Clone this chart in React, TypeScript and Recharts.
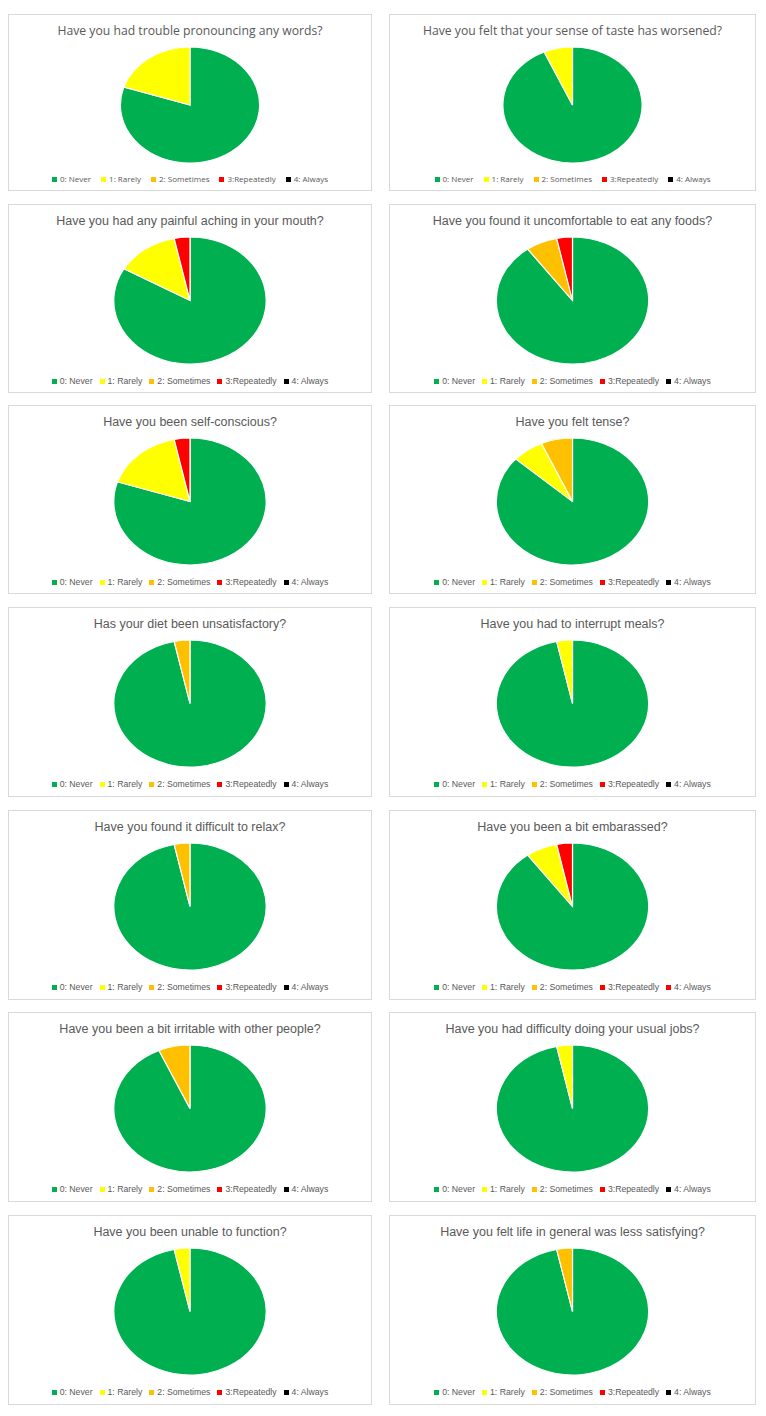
import React from 'react';
import { PieChart, Pie, Cell, Legend } from 'recharts';

const LEVELS = ['0: Never', '1: Rarely', '2: Sometimes', '3:Repeatedly', '4: Always'];

const QUESTIONS = [
  'Have you had trouble pronouncing any words?',
  'Have you felt that your sense of taste has worsened?',
  'Have you had any painful aching in your mouth?',
  'Have you found it uncomfortable to eat any foods?',
  'Have you been self-conscious?',
  'Have you felt tense?',
  'Has your diet been unsatisfactory?',
  'Have you had to interrupt meals?',
  'Have you found it difficult to relax?',
  'Have you been a bit embarassed?',
  'Have you been a bit irritable with other people?',
  'Have you had difficulty doing your usual jobs?',
  'Have you been unable to function?',
  'Have you felt life in general was less satisfying?',
];

const NEVER = [24, 28, 25, 27, 24, 26, 29, 29, 29, 27, 28, 29, 29, 29];
const RARELY = [6, 2, 4, 0, 5, 2, 0, 1, 0, 2, 0, 1, 1, 0];
const SOMETIMES = [0, 0, 0, 2, 0, 2, 1, 0, 1, 0, 2, 0, 0, 1];
const REPEATEDLY = [0, 0, 1, 1, 1, 0, 0, 0, 0, 1, 0, 0, 0, 0];
const ALWAYS = [0, 0, 0, 0, 0, 0, 0, 0, 0, 0, 0, 0, 0, 0];

const SERIES = [NEVER, RARELY, SOMETIMES, REPEATEDLY, ALWAYS];

const LEVEL_COLORS = ['#00B050', '#FFFF00', '#FFC000', '#FF0000', '#000000'];
const EMBARASSED_COLORS = ['#00B050', '#FFFF00', '#FFC000', '#FF0000', '#FF0000'];

const ROW_TOPS = [14, 204, 405, 607, 810, 1012, 1215];
const ROW_HEIGHTS = [177, 189, 189, 190, 190, 190, 190];
const COL_LEFTS = [8, 389];
const COL_WIDTHS = [364, 367];

const TEXT = '#595959';

function makeLegend(colors: string[], font: string, size: number, gap: number) {
  return (props: any) => {
    const payload: any[] = props && props.payload && props.payload.length ? props.payload : LEVELS.map((v) => ({ value: v }));
    return (
      <div
        style={{
          display: 'flex',
          justifyContent: 'center',
          alignItems: 'center',
          fontFamily: font,
          fontSize: size,
          color: TEXT,
          whiteSpace: 'nowrap',
          lineHeight: '12px',
        }}
      >
        {payload.map((e, i) => (
          <span
            key={i}
            style={{ display: 'inline-flex', alignItems: 'center', marginRight: i < payload.length - 1 ? gap : 0 }}
          >
            <span style={{ display: 'inline-block', width: 5, height: 5, background: colors[i], marginRight: 3 }} />
            {e.value}
          </span>
        ))}
      </div>
    );
  };
}

function Panel({ idx }: { idx: number }) {
  const row = Math.floor(idx / 2);
  const col = idx % 2;
  const left = COL_LEFTS[col];
  const top = ROW_TOPS[row];
  const width = COL_WIDTHS[col];
  const height = ROW_HEIGHTS[row];
  const compact = row === 0;
  const colors = idx === 9 ? EMBARASSED_COLORS : LEVEL_COLORS;
  const data = LEVELS.map((name, i) => ({ name, value: SERIES[i][idx] }));
  const r = compact ? 58 : 63.5;
  const cy = compact ? 90 : 95.5;
  const titleFont = compact ? '"Open Sans", sans-serif' : '"Liberation Sans", Arial, sans-serif';
  const titleSize = compact ? 12.2 : 12.5;
  const legendFont = compact ? '"Open Sans", sans-serif' : '"Liberation Sans", Arial, sans-serif';
  const legendSize = compact ? 8 : 8.7;
  const legendCenter = compact ? 164 : 176;
  const titleCenter = 15.5;
  const inner = width - 2;
  return (
    <div
      style={{
        position: 'absolute',
        left,
        top,
        width,
        height,
        border: '1px solid #D9D9D9',
        boxSizing: 'border-box',
        background: '#fff',
      }}
    >
      <div
        style={{
          position: 'absolute',
          left: 0,
          width: inner,
          top: titleCenter - 9,
          height: 18,
          lineHeight: '18px',
          textAlign: 'center',
          fontFamily: titleFont,
          fontSize: titleSize,
          color: TEXT,
          whiteSpace: 'nowrap',
          zIndex: 2,
        }}
      >
        {QUESTIONS[idx]}
      </div>
      <div style={{ position: 'absolute', left: 0, top: 0 }}>
        <PieChart width={inner} height={height - 2} margin={{ top: 0, right: 0, bottom: 0, left: 0 }}>
          <Pie
            className="xl-pie"
            data={data}
            dataKey="value"
            nameKey="name"
            cx="50%"
            cy={cy}
            outerRadius={r}
            startAngle={90}
            endAngle={-270}
            stroke="#FFFFFF"
            strokeWidth={1}
            isAnimationActive={false}
            legendType="square"
          >
            {data.map((d, i) => (
              <Cell key={i} fill={colors[i]} />
            ))}
          </Pie>
          <Legend
            content={makeLegend(colors, legendFont, legendSize, compact ? 10 : 7)}
            wrapperStyle={{ top: legendCenter - 6, bottom: 'auto', left: 0, width: inner, height: 12 }}
          />
        </PieChart>
      </div>
    </div>
  );
}

export default function App() {
  return (
    <div style={{ position: 'absolute', left: 0, top: 0, width: 766, height: 1416, background: '#fff' }}>
      <style>{`.recharts-pie { transform-box: fill-box; transform-origin: center; transform: scaleX(1.2); }`}</style>
      {QUESTIONS.map((q, i) => (
        <Panel key={i} idx={i} />
      ))}
    </div>
  );
}
